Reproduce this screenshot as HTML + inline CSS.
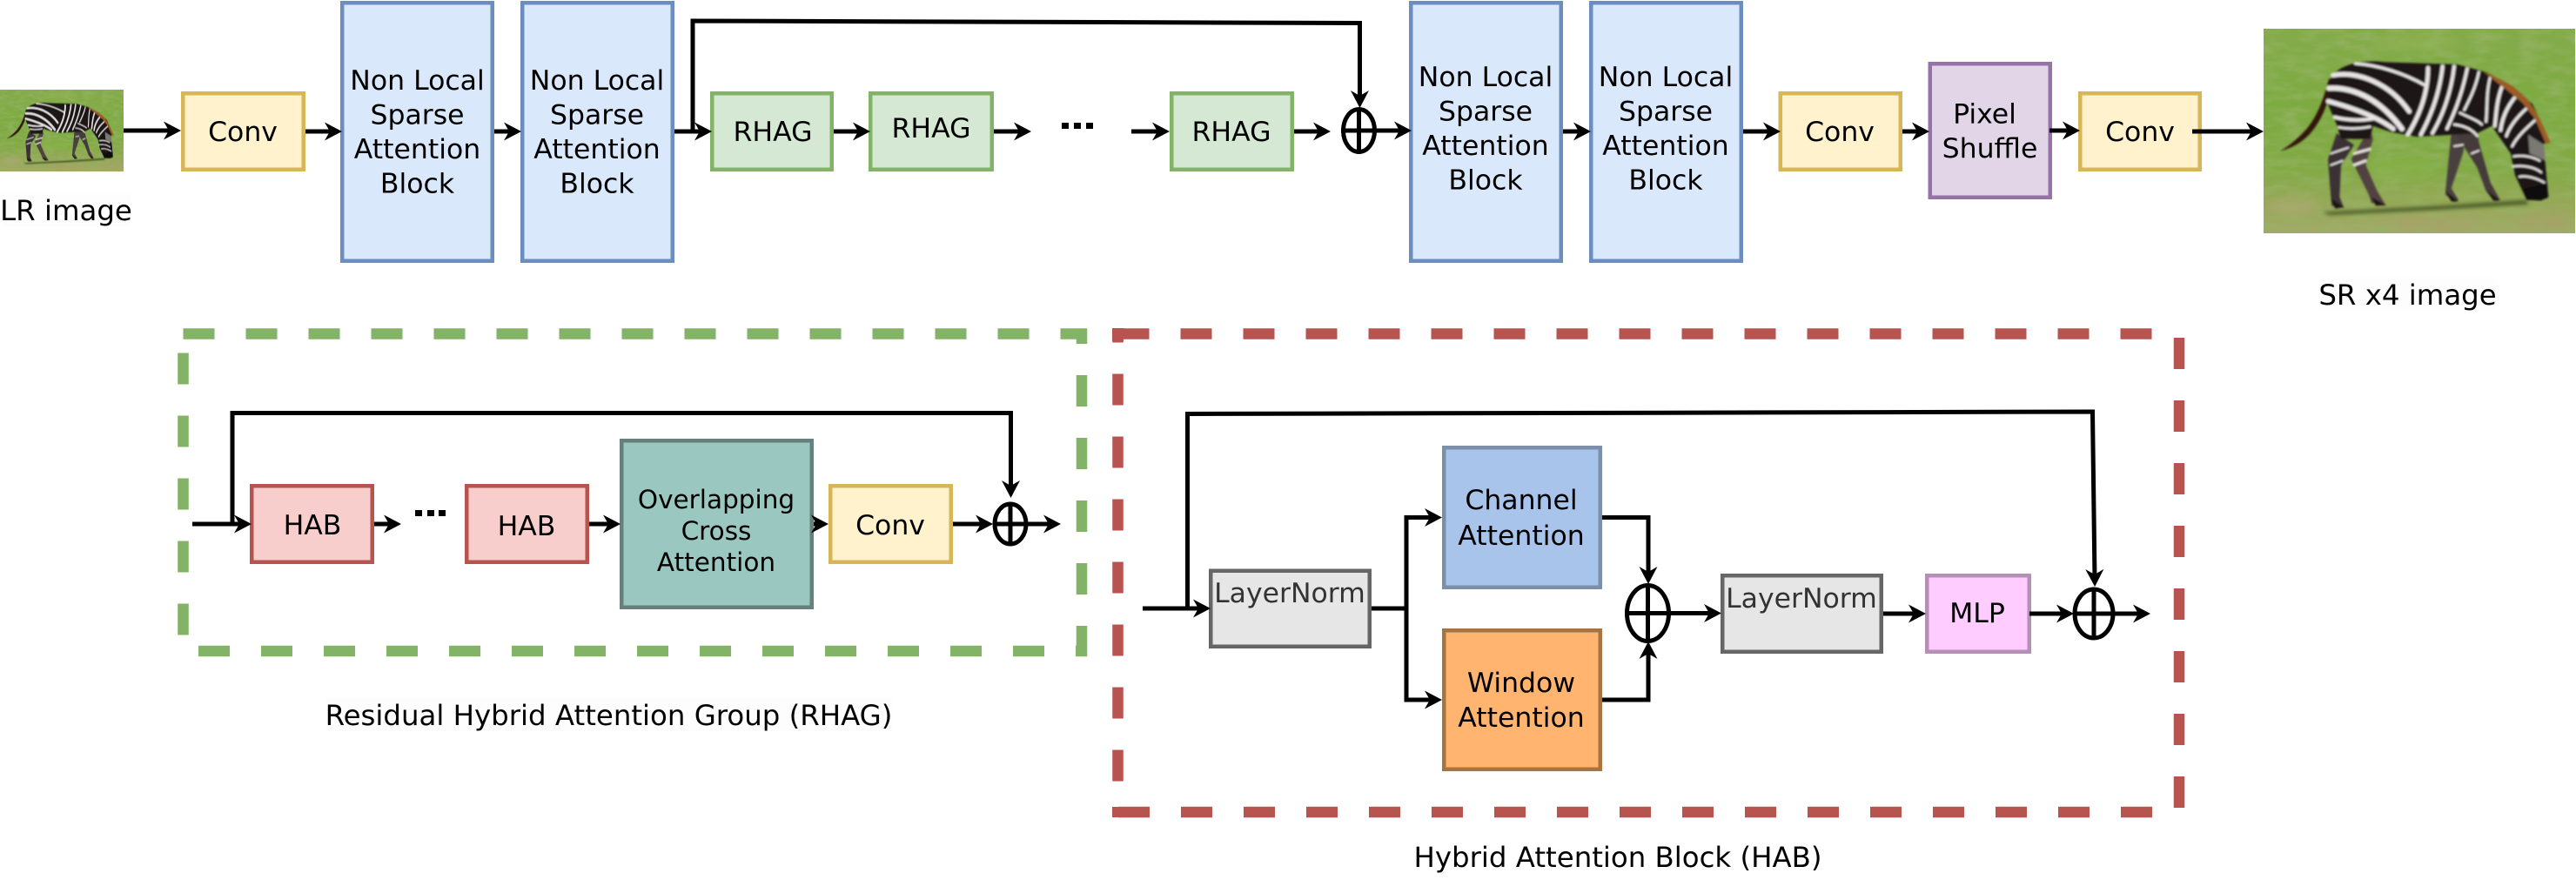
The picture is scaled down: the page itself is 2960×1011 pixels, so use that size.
<!DOCTYPE html>
<html><head><meta charset="utf-8"><title>Architecture diagram</title>
<style>
html,body{margin:0;padding:0;background:#fff;width:2960px;height:1011px;overflow:hidden}
svg{display:block}
text{font-family:"DejaVu Sans","Liberation Sans",sans-serif;font-size:31.5px;fill:#000;text-anchor:middle}
text.c{font-size:32.4px}
.l{fill:none;stroke:#000;stroke-width:5;marker-end:url(#a)}
.n{fill:none;stroke:#000;stroke-width:5}
.y{fill:#fff2cc;stroke:#d6b656;stroke-width:4.5}
.b{fill:#dae8fc;stroke:#6c8ebf;stroke-width:4.5}
.g{fill:#d5e8d4;stroke:#82b366;stroke-width:4.5}
.p{fill:#e1d5e7;stroke:#9673a6;stroke-width:4.5}
.r{fill:#f8cecc;stroke:#b85450;stroke-width:4.5}
.e{fill:#e6e6e6;stroke:#666;stroke-width:4.5}
.lt{fill:#333}
</style></head><body>
<svg xmlns="http://www.w3.org/2000/svg" width="2960" height="1011" viewBox="0 0 2960 1011">
<defs>
<marker id="a" markerUnits="userSpaceOnUse" markerWidth="22" markerHeight="22" refX="12" refY="10.5" orient="auto">
<path d="M0 0L20 10.5L0 21L6 10.5Z" fill="#000"/></marker>
<filter id="soft" x="-5%" y="-5%" width="110%" height="110%"><feGaussianBlur stdDeviation="3"/></filter>
<filter id="shadow" x="-5%" y="-50%" width="110%" height="200%"><feGaussianBlur stdDeviation="6"/></filter>
<filter id="blur2" x="-20%" y="-20%" width="140%" height="140%"><feGaussianBlur stdDeviation="14"/></filter>
<filter id="noise" x="0" y="0" width="100%" height="100%"><feTurbulence type="fractalNoise" baseFrequency=".012 .035" numOctaves="3" seed="4"/><feColorMatrix type="matrix" values="0 0 0 0 .30  0 0 0 0 .45  0 0 0 0 .13  0 0 0 1.8 -.72"/></filter>
<linearGradient id="gr" x1="0" y1="0" x2="0" y2="1">
<stop offset="0" stop-color="#85ab4b"/><stop offset=".35" stop-color="#7dab41"/><stop offset=".68" stop-color="#82aa45"/><stop offset=".85" stop-color="#96a857"/><stop offset="1" stop-color="#a3a968"/></linearGradient>
<symbol id="z" viewBox="33 40 1074 705" preserveAspectRatio="none">
<rect x="33" y="40" width="1074" height="705" fill="url(#gr)"/>
<rect x="33" y="40" width="1074" height="705" filter="url(#noise)"/>
<g filter="url(#blur2)" opacity=".5">
<ellipse cx="560" cy="90" rx="150" ry="28" fill="#92b454"/>
<ellipse cx="520" cy="520" rx="120" ry="40" fill="#88b34a"/><ellipse cx="130" cy="650" rx="90" ry="30" fill="#b3a878"/>
<ellipse cx="620" cy="710" rx="170" ry="22" fill="#ab9f6c"/><ellipse cx="1000" cy="700" rx="100" ry="30" fill="#a89f68"/>
</g>
<path d="M235 672L640 650L940 630L945 645L640 664L260 682Z" fill="#37491d" opacity=".8" filter="url(#shadow)"/>
<g filter="url(#soft)">
<path d="M258 212C238 290 218 340 182 385C150 420 120 445 90 462C128 452 168 432 198 396C236 350 258 290 272 225Z" fill="#33170f"/>
<path d="M285 400L255 490L265 620L268 650L310 658L295 620L300 510L345 440Z" fill="#3b3236"/>
<path d="M400 380L335 490L395 610L405 640L455 650L425 600L385 510L410 420Z" fill="#51433f"/>
<path d="M680 400L660 600L660 612L690 638L705 630L680 590L720 470L730 410Z" fill="#4a3f40"/>
<path d="M695 400L770 520L800 600L830 635L848 630L815 570L775 430L770 380Z" fill="#453a3b"/>
<path d="M262 215C285 165 370 145 450 155L700 163L800 190L880 232L960 300L1020 432L998 436L1012 590L1010 625L940 630L900 545L885 470L820 375L770 400L690 405L560 412L470 395L410 375L400 420L300 420L285 370L255 300Z" fill="#1d1216"/>
<g fill="none" stroke="#e6e3e3" stroke-linecap="round">
<path stroke-width="10" d="M350 160C430 165 520 195 590 235"/>
<path stroke-width="16" d="M272 200C360 185 470 230 535 325"/>
<path stroke-width="18" d="M258 245C350 240 440 290 510 385"/>
<path stroke-width="16" d="M256 290C330 310 420 340 480 385"/>
<path stroke-width="12" d="M278 345C320 355 370 358 410 350"/>
<path stroke-width="8" d="M292 380C320 385 360 385 400 378"/>
<path stroke-width="14" d="M600 175C600 260 570 340 530 405"/>
<path stroke-width="13" d="M650 170C640 260 610 340 575 405"/>
<path stroke-width="12" d="M690 170C680 260 650 340 615 400"/>
<path stroke-width="11" d="M735 178C720 250 700 310 665 385"/>
<path stroke-width="9" d="M775 190C765 240 745 280 725 320"/>
<path stroke-width="9" d="M815 205C800 260 805 310 800 360"/>
<path stroke-width="12" d="M855 240C835 290 835 340 830 375"/>
<path stroke-width="12" d="M905 270C870 310 855 350 850 390"/>
<path stroke-width="10" d="M945 310C905 345 880 380 870 410"/>
<path stroke-width="9" d="M975 350C935 385 905 415 890 445"/>
<path stroke-width="8" d="M710 330C740 345 770 355 785 370"/>
<path stroke-width="8" d="M690 370C730 375 755 390 770 410"/>
<path stroke-width="7" d="M895 480C925 475 960 480 985 495"/>
<path stroke-width="7" d="M892 515C925 510 965 515 990 535"/>
<path stroke-width="7" d="M915 550C940 545 975 555 1000 570"/>
<path stroke-width="6" d="M265 470L325 450"/><path stroke-width="6" d="M265 510L305 495"/>
<path stroke-width="9" d="M345 470L400 455"/><path stroke-width="9" d="M345 510L385 495"/>
<path stroke-width="6" d="M690 445L720 440"/><path stroke-width="6" d="M750 470L775 460"/>
</g>
<path d="M945 405L1000 440L1005 495L950 470Z" fill="#8d8b82" opacity=".85"/>
<path d="M930 592L1010 572L1015 620L990 632L940 630Z" fill="#0e0b0c"/>
<path d="M790 188L850 215L895 240L945 285L985 350L1022 432L1006 436L968 350L925 295L870 250Z" fill="#9c5c26"/>
<path d="M265 625L310 655L280 660ZM405 620L455 648L420 650ZM660 600L705 635L680 635ZM800 595L848 632L825 632Z" fill="#1c1214"/>
</g>
</symbol>
</defs>

<rect width="2960" height="1011" fill="#fff"/>

<!-- dashed groups -->
<rect x="210.5" y="383.5" width="1032.5" height="364.5" fill="none" stroke="#82b366" stroke-width="12.5" stroke-dasharray="36 36"/>
<rect x="1284.5" y="383.5" width="1219.5" height="549.5" fill="none" stroke="#b85450" stroke-width="12.5" stroke-dasharray="36 36"/>
<rect x="1278" y="377" width="13" height="15" fill="#b85450"/>
<rect x="1278" y="927" width="13" height="12" fill="#b85450"/>

<!-- images -->
<use href="#z" x="0" y="103" width="142" height="94"/>
<use href="#z" x="2601" y="33" width="358" height="235"/>

<!-- top boxes -->
<rect class="y" x="210.25" y="107.25" width="138.5" height="87.5"/>
<rect class="b" x="393.25" y="3.25" width="172.5" height="296.5"/>
<rect class="b" x="600.25" y="3.25" width="172.5" height="296.5"/>
<rect class="g" x="818.25" y="107.25" width="137.5" height="87.5"/>
<rect class="g" x="1000.25" y="107.25" width="139.5" height="87.5"/>
<rect class="g" x="1346.25" y="107.25" width="138.5" height="87.5"/>
<rect class="b" x="1621.25" y="3.25" width="172.5" height="296.5"/>
<rect class="b" x="1828.25" y="3.25" width="172.5" height="296.5"/>
<rect class="y" x="2045.75" y="107.25" width="138" height="87.5"/>
<rect class="p" x="2217.75" y="73.25" width="138" height="153.5"/>
<rect class="y" x="2390.25" y="107.25" width="137.5" height="87.5"/>

<!-- RHAG boxes -->
<rect class="r" x="289.25" y="558.25" width="138.5" height="87.5"/>
<rect class="r" x="536.25" y="558.25" width="138.5" height="87.5"/>
<rect x="714.25" y="506.25" width="218.5" height="191.5" fill="#9ac7bf" stroke="#67807b" stroke-width="4.5"/>
<rect class="y" x="954.25" y="558.25" width="138.5" height="87.5"/>

<!-- HAB boxes -->
<rect class="e" x="1391.25" y="655.75" width="182.5" height="87"/>
<rect x="1659.25" y="514.25" width="179.5" height="160.5" fill="#a9c4eb" stroke="#7b8fa9" stroke-width="4.5"/>
<rect x="1659.25" y="724.25" width="179.5" height="159.5" fill="#ffb570" stroke="#a67343" stroke-width="4.5"/>
<rect class="e" x="1979.25" y="661.25" width="182.5" height="87.5"/>
<rect x="2214.25" y="661.25" width="117.5" height="87.5" fill="#ffccff" stroke="#b58fb5" stroke-width="4.5"/>

<!-- top connectors -->
<path class="l" d="M142 150H200"/>
<path class="l" d="M351 151H385"/>
<path class="l" d="M568 151H591"/>
<path class="l" d="M775 151H810"/>
<path class="l" d="M958 151H992"/>
<path class="l" d="M1142 151H1177"/>
<path class="l" d="M1300 151H1336"/>
<path class="l" d="M1487 151H1521"/>
<path class="l" d="M1541 150H1614"/>
<path class="l" d="M1796 151H1820"/>
<path class="l" d="M2003 151H2038"/>
<path class="l" d="M2186 151H2209"/>
<path class="l" d="M2355 150H2382"/>
<path class="l" d="M2519 151H2593"/>
<path class="l" d="M796 151V24L1562.5 26.5V116"/>
<ellipse class="n" cx="1561.5" cy="150" rx="18" ry="24.5"/>
<path class="n" d="M1561.5 126V174"/>
<g fill="#000"><rect x="1220" y="141" width="8" height="7"/><rect x="1234" y="141" width="8" height="7"/><rect x="1248" y="141" width="8" height="7"/></g>

<!-- RHAG connectors -->
<path class="l" d="M221 602H281"/>
<path class="l" d="M430 602H453"/>
<path class="l" d="M677 602H705"/>
<path class="l" d="M935 602H944"/>
<path class="l" d="M1095 602H1133"/>
<path class="l" d="M1141 602H1211"/>
<path class="l" d="M267 602V474.5H1161.5V564"/>
<ellipse class="n" cx="1161" cy="602" rx="18" ry="23"/>
<path class="n" d="M1161 580V626"/>
<g fill="#000"><rect x="477" y="586" width="8" height="7"/><rect x="491" y="586" width="8" height="7"/><rect x="504" y="586" width="8" height="7"/></g>

<!-- HAB connectors -->
<path class="l" d="M1313 699H1383"/>
<path class="l" d="M1364.5 699V475.5L2404.5 473L2407 666"/>
<path class="n" d="M1576 699H1616"/>
<path class="l" d="M1616 699V594.5H1649"/>
<path class="l" d="M1616 699V804H1649"/>
<path class="l" d="M1841 594.5H1894V663"/>
<path class="l" d="M1841 804H1894V745"/>
<path class="l" d="M1867 704.5H1970"/>
<path class="l" d="M2164 705H2205"/>
<path class="l" d="M2332 705H2375"/>
<path class="l" d="M2382 705H2463"/>
<ellipse class="n" cx="1893.5" cy="704.5" rx="24" ry="32"/>
<path class="n" d="M1893.5 672V737"/>
<ellipse class="n" cx="2406" cy="705" rx="22" ry="28"/>
<path class="n" d="M2406 677V733"/>

<!-- caption backdrops -->
<rect x="2" y="222" width="148" height="38" fill="#fdfdfd"/>
<rect x="2665" y="318" width="203" height="39" fill="#fdfdfd"/>
<rect x="374" y="802" width="651" height="38" fill="#fdfdfd"/>

<!-- text -->
<text class="c" x="76" y="253">LR image</text>
<text x="279" y="162">Conv</text>
<text x="479.5" y="103">Non Local</text><text x="479.5" y="142.5">Sparse</text><text x="479.5" y="182">Attention</text><text x="479.5" y="221.5">Block</text>
<text x="686" y="103">Non Local</text><text x="686" y="142.5">Sparse</text><text x="686" y="182">Attention</text><text x="686" y="221.5">Block</text>
<text x="888" y="162">RHAG</text>
<text x="1070" y="158">RHAG</text>
<text x="1415" y="162">RHAG</text>
<text x="1707" y="99">Non Local</text><text x="1707" y="138.5">Sparse</text><text x="1707" y="178">Attention</text><text x="1707" y="217.5">Block</text>
<text x="1914" y="99">Non Local</text><text x="1914" y="138.5">Sparse</text><text x="1914" y="178">Attention</text><text x="1914" y="217.5">Block</text>
<text x="2114" y="162">Conv</text>
<text x="2280.5" y="141.5">Pixel</text><text x="2286.5" y="181">Shuffle</text>
<text x="2459" y="162">Conv</text>
<text class="c" x="2766.5" y="350">SR x4 image</text>

<text x="359" y="614">HAB</text>
<text x="605" y="615">HAB</text>
<text x="823" y="584" style="font-size:29.5px">Overlapping</text><text x="823" y="620" style="font-size:29.5px">Cross</text><text x="823" y="656" style="font-size:29.5px">Attention</text>
<text x="1023" y="614">Conv</text>
<text class="c" x="699.5" y="833">Residual Hybrid Attention Group (RHAG)</text>

<text class="lt" x="1482" y="692">LayerNorm</text>
<text x="1748" y="585">Channel</text><text x="1748" y="626">Attention</text>
<text x="1748" y="795">Window</text><text x="1748" y="835">Attention</text>
<text class="lt" x="2070" y="698">LayerNorm</text>
<text x="2272" y="715">MLP</text>
<text class="c" x="1859" y="996">Hybrid Attention Block (HAB)</text>
</svg>
</body></html>
